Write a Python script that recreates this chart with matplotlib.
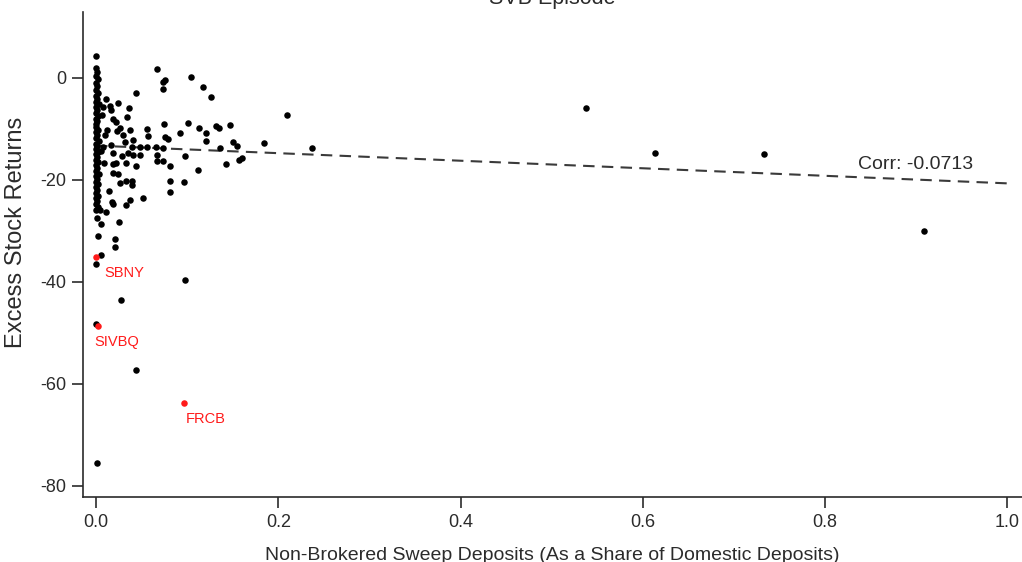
import matplotlib
matplotlib.use("Agg")
import matplotlib.pyplot as plt
import numpy as np

# banks sitting right at zero sweep share (dense column)
col_x = [0.0, 0.0, 0.001, 0.0, 0.002, 0.0, 0.001, 0.0, 0.002, 0.0,
         0.001, 0.0, 0.003, 0.0, 0.001, 0.0, 0.002, 0.0, 0.001, 0.0,
         0.0, 0.002, 0.0, 0.001, 0.0, 0.003, 0.0, 0.001, 0.0, 0.002,
         0.0, 0.001, 0.0, 0.002, 0.0, 0.001, 0.0, 0.003, 0.0, 0.001,
         0.0, 0.002, 0.0, 0.001, 0.0, 0.002, 0.0, 0.001, 0.0, 0.002,
         0.0, 0.001, 0.0, 0.0, 0.001]
col_y = [4.3, 2.0, 1.2, 0.4, -0.3, -1.0, -1.6, -2.3, -2.9, -3.5,
         -4.1, -4.7, -5.2, -5.8, -6.3, -6.9, -7.4, -8.0, -8.5, -9.1,
         -9.6, -10.2, -10.7, -11.2, -11.8, -12.3, -12.9, -13.4, -13.9, -14.5,
         -15.0, -15.5, -16.1, -16.6, -17.1, -17.7, -18.2, -18.8, -19.3, -19.8,
         -20.4, -20.9, -21.5, -22.0, -22.5, -23.1, -23.6, -24.2, -24.8, -25.3,
         -26.0, -27.5, -36.5, -48.2, -75.5]

# the rest of the banks
pt_x = [0.067, 0.076, 0.073, 0.074, 0.104, 0.117, 0.126, 0.044, 0.011, 0.008,
        0.015, 0.016, 0.024, 0.036, 0.034, 0.007, 0.019, 0.022, 0.075, 0.101,
        0.113, 0.132, 0.135, 0.147, 0.056, 0.057, 0.037, 0.026, 0.023, 0.012,
        0.010, 0.030, 0.076, 0.079, 0.092, 0.121, 0.121, 0.150, 0.155, 0.136,
        0.184, 0.066, 0.074, 0.056, 0.048, 0.041, 0.039, 0.032, 0.016, 0.008,
        0.006, 0.019, 0.028, 0.035, 0.041, 0.048, 0.067, 0.067, 0.073, 0.081,
        0.098, 0.112, 0.143, 0.157, 0.160, 0.022, 0.019, 0.009, 0.033, 0.044,
        0.019, 0.024, 0.081, 0.081, 0.097, 0.026, 0.033, 0.039, 0.039, 0.014,
        0.051, 0.017, 0.019, 0.037, 0.033, 0.004, 0.011, 0.006, 0.025, 0.002,
        0.021, 0.021, 0.006, 0.098, 0.027, 0.044, 0.210, 0.237, 0.538, 0.613,
        0.733, 0.909]
pt_y = [1.8, -0.4, -0.9, -2.2, 0.1, -1.9, -3.7, -3.0, -4.2, -5.7,
        -5.5, -6.4, -5.0, -5.9, -7.6, -7.3, -8.1, -8.6, -9.0, -8.9,
        -9.8, -9.5, -9.9, -9.2, -10.1, -11.5, -10.2, -9.9, -10.5, -10.2,
        -11.2, -11.2, -11.6, -12.0, -10.8, -10.8, -12.3, -12.5, -13.3, -13.7,
        -12.8, -13.5, -13.8, -13.5, -13.5, -12.2, -13.5, -12.6, -13.1, -13.5,
        -14.4, -14.8, -15.4, -14.8, -15.2, -15.2, -15.1, -16.4, -16.4, -17.2,
        -15.3, -18.0, -16.9, -16.2, -15.7, -16.7, -17.0, -16.7, -16.8, -17.3,
        -18.7, -18.8, -20.3, -22.3, -20.5, -20.7, -20.2, -20.2, -21.0, -22.1,
        -23.6, -24.3, -24.7, -23.9, -24.9, -26.0, -26.4, -28.6, -28.2, -31.1,
        -31.6, -33.2, -34.7, -39.7, -43.5, -57.3, -7.3, -13.7, -6.0, -14.7,
        -14.9, -30.1]

# failed banks, highlighted
hl_names = ["SBNY", "SIVBQ", "FRCB"]
hl_x = [0.0, 0.0025, 0.096]
hl_y = [-35.2, -48.6, -63.8]

# fitted line
fit_intercept = -13.3
fit_slope = -7.4
corr_text = "Corr: -0.0713"

grey = "#2b2b2b"
plt.rcParams["font.family"] = ["Liberation Sans", "DejaVu Sans"]
plt.rcParams["axes.unicode_minus"] = False

fig = plt.figure(figsize=(10.22, 5.62), dpi=100)
ax = fig.add_axes([0.0812, 0.1157, 0.9188, 0.8629])

ax.scatter(col_x, col_y, s=22, color="black", linewidths=0, zorder=3)
ax.scatter(pt_x, pt_y, s=22, color="black", linewidths=0, zorder=3)
ax.scatter(hl_x, hl_y, s=22, color="#ff1a1a", linewidths=0, zorder=4)

label_dx = [0.009, -0.004, 0.002]
label_dy = [-3.0, -3.2, -3.1]
for name, x, y, dx, dy in zip(hl_names, hl_x, hl_y, label_dx, label_dy):
    ax.text(x + dx, y + dy, name, color="#ff1a1a", fontsize=10.5, ha="left", va="center")

lx = np.array([0.0, 1.0])
ax.plot(lx, fit_intercept + fit_slope * lx, ls=(0, (5.5, 3.5)), color="#3a3a3a", lw=1.5, zorder=2)
ax.text(0.836, -17.0, corr_text, fontsize=14, color=grey, ha="left", va="center")

ax.set_xlim(-0.0143, 1.016)
ax.set_ylim(-82.2, 12.9)
ax.set_xticks([0.0, 0.2, 0.4, 0.6, 0.8, 1.0])
ax.set_xticklabels(["0.0", "0.2", "0.4", "0.6", "0.8", "1.0"])
ax.set_yticks([0, -20, -40, -60, -80])
for s in ["top", "right"]:
    ax.spines[s].set_visible(False)
for s in ["left", "bottom"]:
    ax.spines[s].set_color(grey)
    ax.spines[s].set_linewidth(1.2)
ax.tick_params(axis="both", direction="out", length=8, width=1.2, color=grey,
               labelsize=13, labelcolor=grey, pad=4)
ax.set_ylabel("Excess Stock Returns", fontsize=17, color=grey)
ax.yaxis.set_label_coords(-0.0596, 0.546)
ax.set_xlabel("Non-Brokered Sweep Deposits (As a Share of Domestic Deposits)",
              fontsize=14, color=grey)
ax.xaxis.set_label_coords(0.4995, -0.130)
ax.xaxis.label.set_va("baseline")

fig.text(0.54, 1 - 4 / 562, "SVB Episode", fontsize=15.5, color=grey, ha="center", va="baseline")

fig.savefig("out.png", dpi=100)
